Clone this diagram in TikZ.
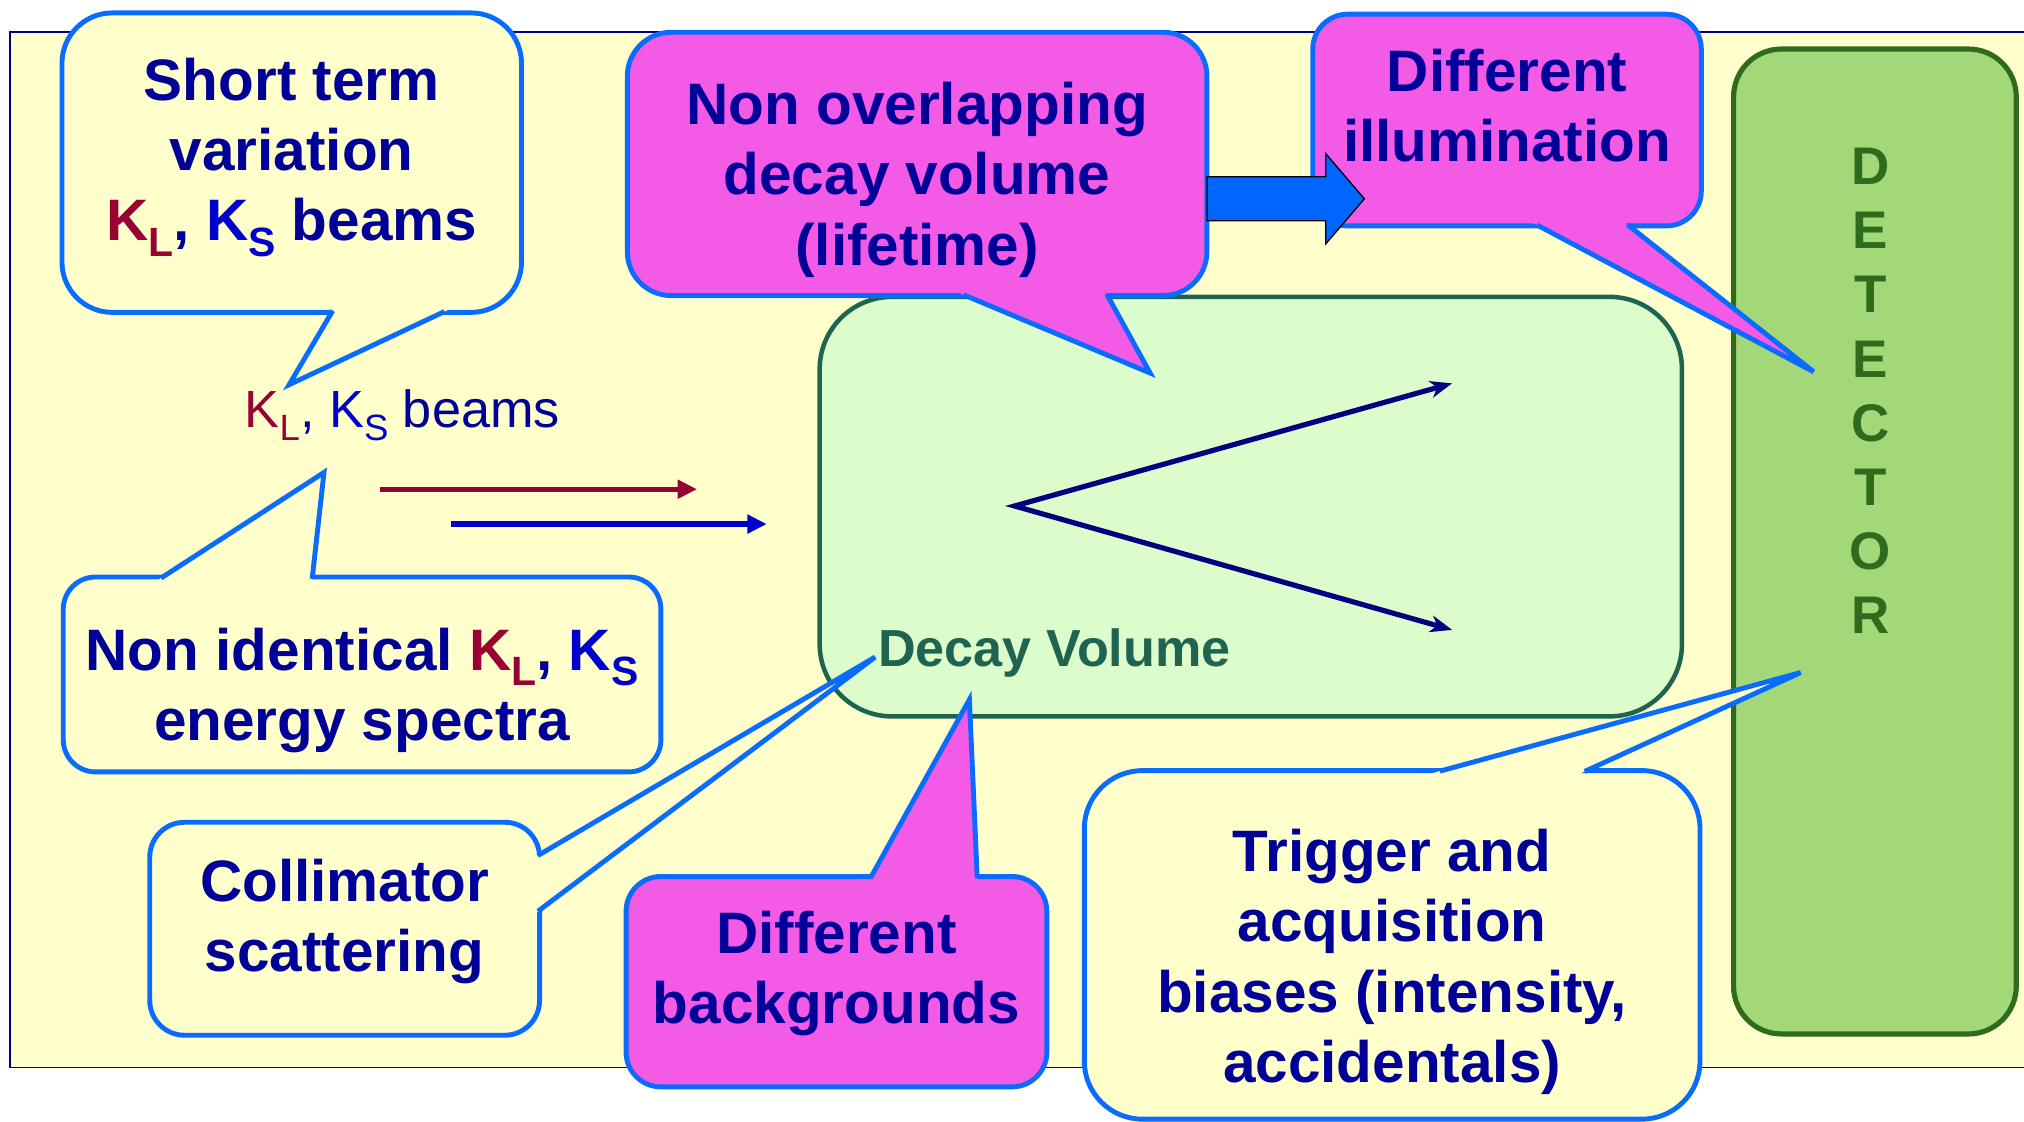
\documentclass[tikz,border=0pt]{standalone}
\usepackage{fontspec}
\setmainfont{Liberation Sans}
\usepackage{graphicx}
\usetikzlibrary{arrows.meta,calc}

\definecolor{navy}{HTML}{000099}
\definecolor{klred}{HTML}{990033}
\definecolor{ksblue}{HTML}{0000CC}
\definecolor{cborder}{HTML}{0A6CFF}
\definecolor{paleyel}{HTML}{FFFFCC}
\definecolor{pinkfill}{HTML}{F35AE6}
\definecolor{dvfill}{HTML}{DCFCCB}
\definecolor{dvline}{HTML}{1F6351}
\definecolor{detfill}{HTML}{A3D878}
\definecolor{detline}{HTML}{2E6B1C}
\definecolor{arrowblue}{HTML}{0066FF}
\definecolor{decaynavy}{HTML}{000080}

% lowered, shrunken subscript letter
\newcommand\lowsub[1]{\raisebox{-0.26em}{\scalebox{0.7}{#1}}}
\newcommand\KL{\textcolor{klred}{K\lowsub{L}}}
\newcommand\KS{\textcolor{ksblue}{K\lowsub{S}}}

% callout tail: fill colour, base point, tip, base point
\newcommand\calltail[4]{%
  \fill[#1] ($(#2)!-12pt!(#3)$) -- (#3) -- ($(#4)!-12pt!(#3)$) -- cycle;
  \draw[cline] ($(#2)!-1.5pt!(#3)$) -- (#3) -- ($(#4)!-1.5pt!(#3)$);
}

\tikzset{
  cline/.style={draw=cborder, line width=3.8pt, line join=miter},
  cshape/.style={cline, rectangle, inner sep=0pt, outer sep=0pt},
  ctext/.style={align=center, text=navy, inner sep=0pt,
    font=\fontsize{45.3}{54.5}\selectfont\bfseries},
  beam/.style={line width=4pt, -{Triangle[length=15pt,width=14pt]}},
  decayline/.style={draw=decaynavy, line width=4pt, line join=miter,
    {Stealth[length=17pt,width=13pt,inset=5pt]}-{Stealth[length=17pt,width=13pt,inset=5pt]}},
}

\begin{document}
\begin{tikzpicture}[x=1pt,y=-1pt]
\useasboundingbox (0,0) rectangle (1568,869);
\fill[white] (0,0) rectangle (1568,869);

% slide panel
\draw[fill=paleyel, draw=decaynavy, line width=1.4pt] (8,25) rectangle (1590,827);

% decay volume and detector
\node[draw=dvline, fill=dvfill, line width=3.5pt, rounded corners=56pt,
  minimum width=668pt, minimum height=325pt, inner sep=0pt] (dv) at (969,392.5) {};
\node[draw=detline, fill=detfill, line width=4pt, rounded corners=37pt,
  minimum width=219pt, minimum height=763pt, inner sep=0pt] (det) at (1452.5,419.5) {};
\node[align=center, text=detline, inner sep=0pt,
  font=\fontsize{41}{49.66}\selectfont\bfseries] (detlbl) at (1449,302.8)
  {D\\E\\T\\E\\C\\T\\O\\R};
\node[anchor=base west, text=dvline, inner sep=0pt,
  font=\fontsize{40.4}{48}\selectfont\bfseries] (dvlbl) at (680,516) {Decay Volume};

% beams
\node[anchor=base west, text=navy, inner sep=0pt,
  font=\fontsize{40.5}{48}\selectfont] (beamlbl) at (189.5,331) {\KL, \KS{} beams};
\coordinate (klA) at (294,379);
\coordinate (klB) at (540,379);
\coordinate (ksA) at (349,406);
\coordinate (ksB) at (594,406);
\draw[beam, klred] (klA) -- (klB);
\draw[beam, ksblue] (ksA) -- (ksB);

% decay products
\coordinate (vtx) at (786,392);
\coordinate (pup) at (1125,297);
\coordinate (pdn) at (1125,488);
\draw[decayline] (pup) -- (vtx) -- (pdn);

% callout: short term variation
\node[cshape, fill=paleyel, rounded corners=39pt, minimum width=356pt, minimum height=232pt] (bA) at (226,126) {};
\coordinate (a1) at (257,242); \coordinate (a2) at (224,298); \coordinate (a3) at (343,242);
\calltail{paleyel}{a1}{a2}{a3}
\node[ctext] (tA) at (226,121.7) {Short term\\variation\\\KL, \KS{} beams};

% callout: energy spectra
\node[cshape, fill=paleyel, rounded corners=25pt, minimum width=463pt, minimum height=151pt] (bD) at (280.5,522.5) {};
\coordinate (d1) at (126,447); \coordinate (d2) at (251,366); \coordinate (d3) at (242,447);
\calltail{paleyel}{d1}{d2}{d3}
\node[ctext] (tD) at (280.5,534.9) {Non identical \KL, \KS\\energy spectra};

% callout: collimator scattering
\node[cshape, fill=paleyel, rounded corners=27pt, minimum width=302pt, minimum height=165pt] (bE) at (267,719.5) {};
\coordinate (e1) at (418,662); \coordinate (e2) at (678,509); \coordinate (e3) at (418,705);
\calltail{paleyel}{e1}{e2}{e3}
\node[ctext] (tE) at (267,713.8) {Collimator\\scattering};

% callout: backgrounds
\node[cshape, fill=pinkfill, rounded corners=27pt, minimum width=326pt, minimum height=163pt] (bF) at (648,760.5) {};
\coordinate (f1) at (675,679); \coordinate (f2) at (751,542); \coordinate (f3) at (757,679);
\calltail{pinkfill}{f1}{f2}{f3}
\node[ctext] (tF) at (648,754.1) {Different\\backgrounds};

% callout: trigger and acquisition
\node[cshape, fill=paleyel, rounded corners=45pt, minimum width=477pt, minimum height=270pt] (bG) at (1078.5,732) {};
\coordinate (g1) at (1117,597); \coordinate (g2) at (1395,521); \coordinate (g3) at (1229,597);
\calltail{paleyel}{g1}{g2}{g3}
\node[ctext] (tG) at (1078.5,745.2) {Trigger and\\acquisition\\biases (intensity,\\accidentals)};

% callout: lifetime
\node[cshape, fill=pinkfill, rounded corners=34pt, minimum width=449pt, minimum height=204pt] (bB) at (710.5,127) {};
\coordinate (b1) at (748,229); \coordinate (b2) at (891,289); \coordinate (b3) at (858,229);
\calltail{pinkfill}{b1}{b2}{b3}
\node[ctext] (tB) at (710.5,139.3) {Non overlapping\\decay volume\\(lifetime)};

% callout: illumination
\node[cshape, fill=pinkfill, rounded corners=27pt, minimum width=301pt, minimum height=164pt] (bC) at (1167.5,93) {};
\coordinate (c1) at (1192,175); \coordinate (c2) at (1405,288); \coordinate (c3) at (1262,175);
\calltail{pinkfill}{c1}{c2}{c3}
\node[ctext] (tC) at (1167.5,82) {Different\\illumination};

% block arrow between the two top callouts
\draw[fill=arrowblue, draw=black, line width=1pt, line join=miter]
  (935,137) -- (1027,137) -- (1027,119) -- (1057,154) -- (1027,189) -- (1027,171) -- (935,171) -- cycle;
\end{tikzpicture}
\end{document}
